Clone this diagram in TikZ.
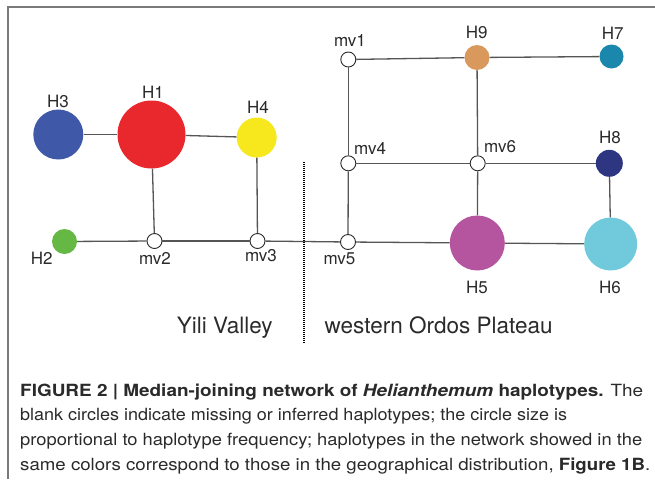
\documentclass[tikz,border=0pt]{standalone}
\usepackage{fontspec}
\usepackage{graphicx}
\setmainfont{TeX Gyre Heros}
\definecolor{edgegray}{HTML}{555555}
\definecolor{framegray}{HTML}{7A7A7A}
\definecolor{textgray}{HTML}{2A2A2A}
\definecolor{cH1}{HTML}{E8282D}
\definecolor{cH2}{HTML}{66B845}
\definecolor{cH3}{HTML}{3F58A7}
\definecolor{cH4}{HTML}{F6E81C}
\definecolor{cH5}{HTML}{B5549F}
\definecolor{cH6}{HTML}{70CADC}
\definecolor{cH7}{HTML}{1C87AD}
\definecolor{cH8}{HTML}{2E3581}
\definecolor{cH9}{HTML}{D9985C}
\newcommand\fitline[2]{\resizebox{#1pt}{\height}{#2}}
\begin{document}
\begin{tikzpicture}[x=1pt,y=-1pt,
  edge/.style={draw=edgegray, line width=1.3pt},
  hap/.style={circle, draw=none, inner sep=0pt, minimum size=#1},
  mvnode/.style={circle, draw=textgray, line width=0.9pt, fill=white, inner sep=0pt, minimum size=15pt},
  lab/.style={font=\fontsize{17}{17}\selectfont, text=textgray, inner sep=0pt},
  region/.style={font=\fontsize{22.5}{23}\selectfont, text=textgray, inner sep=0pt, anchor=base},
  captext/.style={font=\fontsize{16.8}{18}\selectfont, text=textgray, inner sep=0pt, anchor=base west},
]
\useasboundingbox (0,0) rectangle (655,482);
% frame
\draw[framegray, line width=1.6pt] (7.7,479) -- (7.7,6.7) -- (655,6.7);
% haplotype nodes
\node[hap=68pt, fill=cH1] (H1) at (151.5,134.5) {};
\node[hap=25pt, fill=cH2] (H2) at (64.5,241.5) {};
\node[hap=50pt, fill=cH3] (H3) at (58.3,134.5) {};
\node[hap=40pt, fill=cH4] (H4) at (256.7,137.5) {};
\node[hap=55pt, fill=cH5] (H5) at (477.3,243) {};
\node[hap=53pt, fill=cH6] (H6) at (610.7,244) {};
\node[hap=24pt, fill=cH7] (H7) at (611.5,56.5) {};
\node[hap=27pt, fill=cH8] (H8) at (609.3,163.3) {};
\node[hap=25pt, fill=cH9] (H9) at (477,57.5) {};
% median vectors
\node[mvnode] (mv1) at (348.3,59.5) {};
\node[mvnode] (mv2) at (154.5,241) {};
\node[mvnode] (mv3) at (257.5,241) {};
\node[mvnode] (mv4) at (348.3,163.3) {};
\node[mvnode] (mv5) at (348,242) {};
\node[mvnode] (mv6) at (477.7,163.3) {};
% edges
\draw[edge] (H3) -- (H1);
\draw[edge] (H1) -- (H4);
\draw[edge] (H1) -- (mv2);
\draw[edge] (H4) -- (mv3);
\draw[edge] (H2) -- (mv2);
\draw[edge] (mv2) -- (mv3);
\draw[edge] (mv3) -- (mv5);
\draw[edge] (mv5) -- (mv4);
\draw[edge] (mv4) -- (mv1);
\draw[edge] (mv1) -- (H9);
\draw[edge] (H9) -- (H7);
\draw[edge] (H9) -- (mv6);
\draw[edge] (mv4) -- (mv6);
\draw[edge] (mv6) -- (H8);
\draw[edge] (mv6) -- (H5);
\draw[edge] (mv5) -- (H5);
\draw[edge] (H5) -- (H6);
\draw[edge] (H8) -- (H6);
% labels
\node[lab] (lH1) at (153,92) {H1};
\node[lab] (lH2) at (41.7,258) {H2};
\node[lab] (lH3) at (58,101) {H3};
\node[lab] (lH4) at (258,107) {H4};
\node[lab] (lH5) at (477,287) {H5};
\node[lab] (lH6) at (610,287) {H6};
\node[lab] (lH7) at (612.7,33.3) {H7};
\node[lab] (lH8) at (610,137) {H8};
\node[lab] (lH9) at (476.7,32.7) {H9};
\node[lab] (lmv1) at (350,40.7) {mv1};
\node[lab] (lmv2) at (155,258) {mv2};
\node[lab] (lmv3) at (261,256) {mv3};
\node[lab] (lmv4) at (370,148) {mv4};
\node[lab] (lmv5) at (339.5,259) {mv5};
\node[lab] (lmv6) at (500,146.7) {mv6};
% divider
\coordinate (dtop) at (304,161.5);
\coordinate (dbot) at (304,342);
\draw[black, line width=1.3pt, dash pattern=on 1pt off 1pt] (dtop) -- (dbot);
\node[region] (yili) at (224.7,333.5) {Yili Valley};
\node[region] (ordos) at (438.6,333.5) {western Ordos Plateau};
% caption
\node[captext] (c1) at (20,396) {\fitline{623}{\textbf{FIGURE 2 | Median-joining network of \textit{Helianthemum} haplotypes.} The}};
\node[captext] (c2) at (20,420.7) {\fitline{547}{blank circles indicate missing or inferred haplotypes; the circle size is}};
\node[captext] (c3) at (20,445.4) {\fitline{622}{proportional to haplotype frequency; haplotypes in the network showed in the}};
\node[captext] (c4) at (20,470) {\fitline{630}{same colors correspond to those in the geographical distribution, \textbf{Figure 1B}.}};
\end{tikzpicture}
\end{document}
